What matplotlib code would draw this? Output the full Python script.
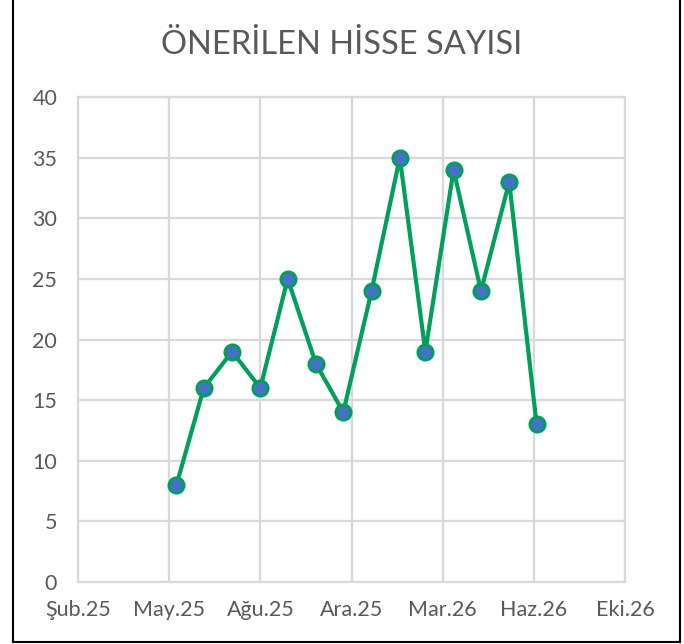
import datetime as dt

import matplotlib
matplotlib.use("Agg")
import matplotlib.pyplot as plt
from matplotlib.lines import Line2D

# Monthly recommendation counts (end of month), May 2025 .. Jun 2026
months = [
    "2025-05-31", "2025-06-30", "2025-07-31", "2025-08-31", "2025-09-30",
    "2025-10-31", "2025-11-30", "2025-12-31", "2026-01-31", "2026-02-28",
    "2026-03-31", "2026-04-30", "2026-05-31", "2026-06-30",
]
counts = [8, 16, 19, 16, 25, 18, 14, 24, 35, 19, 34, 24, 33, 13]

axis_start = "2025-02-12"
tick_step_days = 100
n_ticks = 7
tr_months = ["Oca", "Şub", "Mar", "Nis", "May", "Haz",
             "Tem", "Ağu", "Eyl", "Eki", "Kas", "Ara"]
y_ticks = [0, 5, 10, 15, 20, 25, 30, 35, 40]
title = "ÖNERİLEN HİSSE SAYISI"

text_gray = "#595959"
grid_gray = "#D9D9D9"
line_green = "#00A05A"
marker_blue = "#4472C4"

plt.rcParams["font.family"] = ["Lato", "DejaVu Sans"]

x = [dt.datetime.strptime(m, "%Y-%m-%d") for m in months]
start = dt.datetime.strptime(axis_start, "%Y-%m-%d")
ticks = [start + dt.timedelta(days=tick_step_days * i) for i in range(n_ticks)]
tick_labels = [f"{tr_months[t.month - 1]}.{t.year % 100:02d}" for t in ticks]

fig = plt.figure(figsize=(6.84, 6.44), dpi=100)
ax = fig.add_axes([78 / 684, 1 - 582 / 644, (625 - 78) / 684, (582 - 97) / 644])

ax.plot(x, counts, color=line_green, linewidth=3.0, marker="o", markersize=11,
        markerfacecolor=marker_blue, markeredgecolor=line_green, markeredgewidth=2.0,
        zorder=3)

ax.set_xlim(ticks[0], ticks[-1])
ax.set_ylim(0, 40)
ax.set_xticks(ticks)
ax.set_xticklabels(tick_labels)
ax.set_yticks(y_ticks)
ax.grid(True, color=grid_gray, linewidth=1.6)
ax.set_axisbelow(True)
for side, sp in ax.spines.items():
    sp.set_color(grid_gray)
    sp.set_linewidth(1.6)
ax.tick_params(length=0, labelsize=15.5, colors=text_gray)
ax.tick_params(axis="x", pad=13)
ax.tick_params(axis="y", pad=15)

fig.text(0.5, 1 - 45 / 644, title, ha="center", va="center", fontsize=23.5, color=text_gray)

# chart area border (left, right, bottom)
bx0, bx1, by = 13 / 684, 680 / 684, 2 / 644
for xs, ys in [([bx0, bx0], [by, 1.0]), ([bx1, bx1], [by, 1.0]), ([bx0, bx1], [by, by])]:
    fig.add_artist(Line2D(xs, ys, color="black", linewidth=1.5, transform=fig.transFigure))

fig.savefig("out.png", dpi=100)
